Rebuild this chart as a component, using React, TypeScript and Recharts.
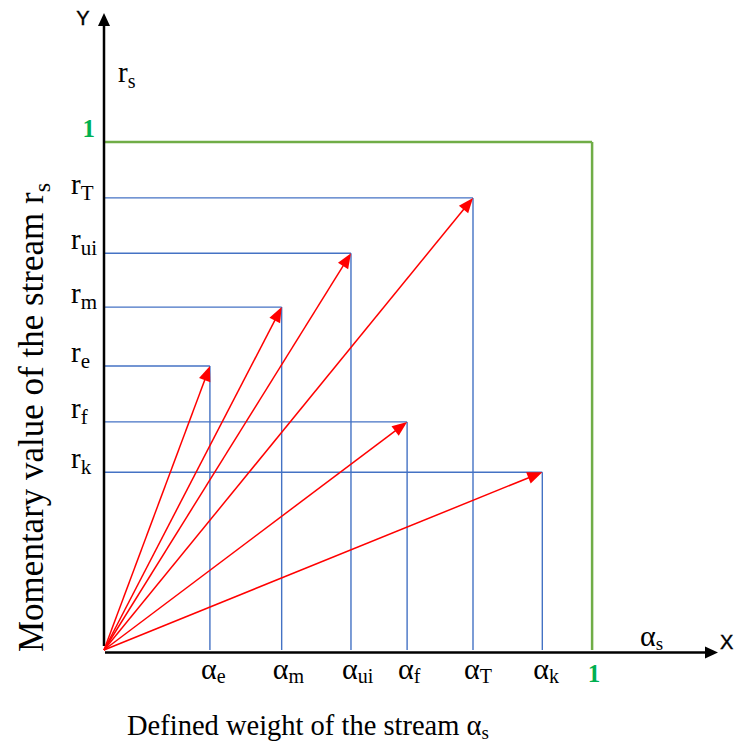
import { ComposedChart, XAxis, YAxis, ReferenceLine, Scatter, Label } from "recharts";

// stream names and their coordinates (defined weight alpha, momentary value r)
const streams = ["e", "m", "ui", "f", "T", "k"];
const alphaValues = [0.217, 0.364, 0.506, 0.621, 0.756, 0.898];
const rValues = [0.559, 0.675, 0.781, 0.449, 0.89, 0.35];
const unitValue = 1;
const xMax = 1.26;
const yMax = 1.254;

const points = streams.map((s, i) => ({ name: s, x: alphaValues[i], y: rValues[i] }));

const RED = "#ff0000";
const BLUE = "#4472c4";
const GREEN_LINE = "#70ad47";
const GREEN_TEXT = "#00b050";
const SERIF = "'Liberation Serif', 'Times New Roman', serif";
const SANS = "'Liberation Sans', Arial, sans-serif";

const arrow =
  (color: string, width: number, headLen: number, headW: number, extra?: (x: number, y: number) => any) =>
  (props: any) => {
    const { x1, y1, x2, y2 } = props;
    if ([x1, y1, x2, y2].some((v) => typeof v !== "number" || isNaN(v))) return <g />;
    const a = Math.atan2(y2 - y1, x2 - x1);
    const c = Math.cos(a);
    const s = Math.sin(a);
    const bx = x2 - headLen * c;
    const by = y2 - headLen * s;
    const ox = (-s * headW) / 2;
    const oy = (c * headW) / 2;
    return (
      <g>
        <line x1={x1} y1={y1} x2={bx + c} y2={by + s} stroke={color} strokeWidth={width} />
        <polygon points={`${x2},${y2} ${bx + ox},${by + oy} ${bx - ox},${by - oy}`} fill={color} />
        {extra ? extra(x2, y2) : null}
      </g>
    );
  };

const yAxisExtra = (x: number, y: number) => (
  <g>
    <text x={x - 21} y={y + 12} textAnchor="middle" fontFamily={SANS} fontSize={20} stroke="#000" strokeWidth={0.4}>
      Y
    </text>
    <text x={x + 14} y={y + 69} fontFamily={SERIF} fontSize={29}>
      r<tspan dy={6} fontSize={20}>s</tspan>
    </text>
  </g>
);

const xAxisExtra = (x: number, y: number) => (
  <g>
    <text x={x + 2} y={y - 4} fontFamily={SANS} fontSize={20} stroke="#000" strokeWidth={0.4}>
      X
    </text>
    <text x={x - 78} y={y - 7} fontFamily={SERIF} fontSize={30}>
      α<tspan dy={4} fontSize={19}>s</tspan>
    </text>
  </g>
);

const XTick = (props: any) => {
  const { x, y, payload } = props;
  const i = alphaValues.indexOf(payload.value);
  if (i < 0) {
    return (
      <text x={x + 2} y={y + 24} textAnchor="middle" fontFamily={SERIF} fontWeight="bold" fontSize={25} fill={GREEN_TEXT}>
        1
      </text>
    );
  }
  return (
    <text x={x - 9} y={y + 21} fontFamily={SERIF} fontSize={30} fill="#000">
      α<tspan dy={4} fontSize={20}>{streams[i]}</tspan>
    </text>
  );
};

const YTick = (props: any) => {
  const { x, y, payload } = props;
  const i = rValues.indexOf(payload.value);
  if (i < 0) {
    return (
      <text x={x - 1} y={y - 5} textAnchor="end" fontFamily={SERIF} fontWeight="bold" fontSize={25} fill={GREEN_TEXT}>
        1
      </text>
    );
  }
  return (
    <text x={x - 25} y={y - 4} fontFamily={SERIF} fontSize={29} fill="#000">
      r<tspan dy={6} fontSize={21}>{streams[i]}</tspan>
    </text>
  );
};

export default function App() {
  return (
    <div style={{ position: "absolute", left: 0, top: 0, background: "#fff" }}>
      <ComposedChart width={734} height={742} data={points} margin={{ top: 13, right: 15, left: 44, bottom: 62 }}>
        <XAxis
          type="number"
          dataKey="x"
          domain={[0, xMax]}
          ticks={[...alphaValues, unitValue]}
          interval={0}
          tick={<XTick />}
          axisLine={false}
          tickLine={false}
          height={30}
        >
          <Label
            content={(p: any) => {
              const vb = p.viewBox || { x: 104, y: 650 };
              return (
                <text x={vb.x + 23} y={vb.y + 85} fontFamily={SERIF} fontSize={28.5}>
                  Defined weight of the stream α<tspan dy={4} fontSize={19}>s</tspan>
                </text>
              );
            }}
          />
        </XAxis>
        <YAxis
          type="number"
          dataKey="y"
          domain={[0, yMax]}
          ticks={[...rValues, unitValue]}
          interval={0}
          tick={<YTick />}
          axisLine={false}
          tickLine={false}
          width={60}
        >
          <Label
            content={(p: any) => {
              const vb = p.viewBox || { x: 44, y: 13, height: 637 };
              const tx = vb.x - 1;
              const ty = vb.y + vb.height + 2;
              return (
                <text x={tx} y={ty} transform={`rotate(-90, ${tx}, ${ty})`} fontFamily={SERIF} fontSize={35}>
                  Momentary value of the stream r<tspan dy={7} fontSize={24}>s</tspan>
                </text>
              );
            }}
          />
        </YAxis>

        {/* green unit frame */}
        <ReferenceLine segment={[{ x: 0, y: unitValue }, { x: unitValue, y: unitValue }]} stroke={GREEN_LINE} strokeWidth={2.5} ifOverflow="visible" />
        <ReferenceLine segment={[{ x: unitValue, y: unitValue }, { x: unitValue, y: 0 }]} stroke={GREEN_LINE} strokeWidth={2.5} ifOverflow="visible" />

        {/* blue projection lines */}
        {points.map((p) => (
          <ReferenceLine key={"h" + p.name} segment={[{ x: 0, y: p.y }, { x: p.x, y: p.y }]} stroke={BLUE} strokeWidth={1.4} ifOverflow="visible" />
        ))}
        {points.map((p) => (
          <ReferenceLine key={"v" + p.name} segment={[{ x: p.x, y: p.y }, { x: p.x, y: 0 }]} stroke={BLUE} strokeWidth={1.4} ifOverflow="visible" />
        ))}

        {/* axes with arrows */}
        <ReferenceLine
          segment={[{ x: 0.002, y: -0.005 }, { x: xMax - 0.002, y: -0.005 }]}
          ifOverflow="visible"
          shape={arrow("#000", 2.5, 13, 12, xAxisExtra)}
        />
        <ReferenceLine
          segment={[{ x: 0, y: 0.008 }, { x: 0, y: yMax }]}
          ifOverflow="visible"
          shape={arrow("#000", 2.5, 13, 12, yAxisExtra)}
        />

        {/* red vectors from origin */}
        {points.map((p) => (
          <ReferenceLine
            key={"a" + p.name}
            segment={[{ x: 0, y: 0 }, { x: p.x, y: p.y }]}
            ifOverflow="visible"
            shape={arrow(RED, 1.5, 15, 12)}
          />
        ))}

        <Scatter data={points} dataKey="y" isAnimationActive={false} shape={() => <g />} />
      </ComposedChart>
    </div>
  );
}
